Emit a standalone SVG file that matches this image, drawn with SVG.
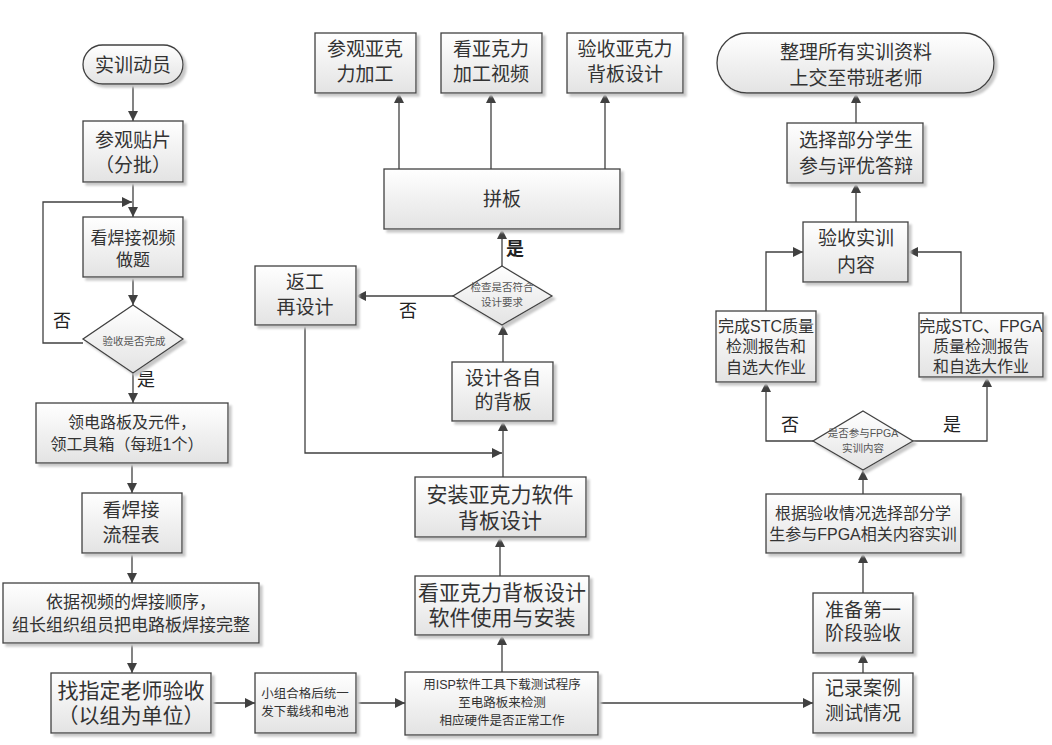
<svg xmlns="http://www.w3.org/2000/svg" width="1052" height="745" viewBox="0 0 1052 745">
<defs>
<linearGradient id="g" x1="0" y1="0" x2="0" y2="1">
<stop offset="0" stop-color="#ffffff"/>
<stop offset="1" stop-color="#e3e3e3"/>
</linearGradient>
<filter id="sh" x="-10%" y="-10%" width="130%" height="140%">
<feOffset in="SourceAlpha" dx="3" dy="3" result="o"/>
<feGaussianBlur in="o" stdDeviation="0.8" result="b"/>
<feFlood flood-color="#c8c8c8"/>
<feComposite in2="b" operator="in" result="s"/>
<feMerge><feMergeNode in="s"/><feMergeNode in="SourceGraphic"/></feMerge>
</filter>
<marker id="a" viewBox="0 0 10 10" refX="10" refY="5" markerWidth="11" markerHeight="10" markerUnits="userSpaceOnUse" orient="auto">
<path d="M0,0 L10,5 L0,10 z" fill="#404040"/>
</marker>
</defs>
<style>
.n{fill:url(#g);stroke:#404040;stroke-width:1.3;filter:url(#sh)}
.c{fill:none;stroke:#404040;stroke-width:1.3;marker-end:url(#a)}
text{font-family:"Liberation Sans","Noto Sans CJK SC",sans-serif;fill:#333;text-anchor:middle;dominant-baseline:central}
tspan{dominant-baseline:central}
.t19{font-size:19px}
.t17{font-size:17px}
.t16{font-size:16px}
.t15{font-size:15.5px}
.t21{font-size:21px}
.t13{font-size:12.5px}
.t11{font-size:10.5px;fill:#555}
.lab{font-size:18px;fill:#222}
</style>
<rect width="1052" height="745" fill="#ffffff"/>

<g id="connectors">
<path class="c" d="M133,83 V121"/>
<path class="c" d="M133,182 V217"/>
<path class="c" d="M83,343 H43 V202 H132"/>
<path class="c" d="M133,277 V305"/>
<path class="c" d="M133,373 V403"/>
<path class="c" d="M132,463 V493"/>
<path class="c" d="M132,553 V583"/>
<path class="c" d="M132,643 V673"/>
<path class="c" d="M211,703 H255"/>
<path class="c" d="M356,703 H405"/>
<path class="c" d="M598,703 H813"/>
<path class="c" d="M502,672 V635"/>
<path class="c" d="M500,576 V537"/>
<path class="c" d="M503,477 V421"/>
<path class="c" d="M305,325 V453 H502"/>
<path class="c" d="M503,362 V325"/>
<path class="c" d="M453,296 H356"/>
<path class="c" d="M502,266 V229"/>
<path class="c" d="M399,169 V93"/>
<path class="c" d="M491,169 V93"/>
<path class="c" d="M605,169 V93"/>
<path class="c" d="M863,673 V653"/>
<path class="c" d="M863,593 V553"/>
<path class="c" d="M863,494 V470"/>
<path class="c" d="M813,441 H766 V382"/>
<path class="c" d="M913,441 H987 V377"/>
<path class="c" d="M766,311 V252 H803"/>
<path class="c" d="M961,313 V252 H908"/>
<path class="c" d="M856,222 V183"/>
<path class="c" d="M856,123 V93"/>
</g>

<g id="labels">
<text class="lab" x="62" y="321">否</text>
<text class="lab" x="146" y="380">是</text>
<text class="lab" x="515" y="249" style="font-weight:bold">是</text>
<text class="lab" x="408" y="311">否</text>
<text class="lab" x="790" y="425">否</text>
<text class="lab" x="952" y="425">是</text>
</g>

<g id="n1"><rect class="n" x="83" y="45" width="100" height="39" rx="19.5"/><text class="t19" x="133" y="65">实训动员</text></g>
<g id="n2"><rect class="n" x="83" y="121" width="100" height="61"/><text class="t19"><tspan x="133" y="140">参观贴片</tspan><tspan x="133" y="165">（分批）</tspan></text></g>
<g id="n3"><rect class="n" x="83" y="217" width="100" height="60"/><text class="t17"><tspan x="133" y="238">看焊接视频</tspan><tspan x="133" y="260">做题</tspan></text></g>
<g id="d1"><path class="n" d="M133,305 L183,339 L133,373 L83,339 Z"/><text class="t11" x="134" y="341">验收是否完成</text></g>
<g id="n4"><rect class="n" x="36" y="403" width="192" height="60"/><text class="t16"><tspan x="132" y="422">领电路板及元件，</tspan><tspan x="127" y="444">领工具箱（每班1个）</tspan></text></g>
<g id="n5"><rect class="n" x="82" y="493" width="100" height="60"/><text class="t19"><tspan x="131" y="510">看焊接</tspan><tspan x="131" y="535">流程表</tspan></text></g>
<g id="n6"><rect class="n" x="3" y="583" width="256" height="60"/><text class="t17"><tspan x="131" y="602">依据视频的焊接顺序，</tspan><tspan x="131" y="625">组长组织组员把电路板焊接完整</tspan></text></g>
<g id="n7"><rect class="n" x="51" y="673" width="160" height="60"/><text class="t21"><tspan x="131" y="690">找指定老师验收</tspan><tspan x="131" y="715">（以组为单位）</tspan></text></g>
<g id="n8"><rect class="n" x="255" y="673" width="101" height="60"/><text class="t13"><tspan x="305" y="694">小组合格后统一</tspan><tspan x="305" y="712">发下载线和电池</tspan></text></g>
<g id="n9"><rect class="n" x="405" y="672" width="193" height="63"/><text class="t13"><tspan x="502" y="685">用ISP软件工具下载测试程序</tspan><tspan x="502" y="703">至电路板来检测</tspan><tspan x="502" y="721">相应硬件是否正常工作</tspan></text></g>
<g id="n10"><rect class="n" x="415" y="576" width="174" height="59"/><text class="t21"><tspan x="502" y="592">看亚克力背板设计</tspan><tspan x="502" y="617">软件使用与安装</tspan></text></g>
<g id="n11"><rect class="n" x="415" y="477" width="171" height="60"/><text class="t21"><tspan x="500" y="494">安装亚克力软件</tspan><tspan x="500" y="520">背板设计</tspan></text></g>
<g id="n12"><rect class="n" x="452" y="362" width="101" height="59"/><text class="t19"><tspan x="503" y="378">设计各自</tspan><tspan x="503" y="402">的背板</tspan></text></g>
<g id="d2"><path class="n" d="M502,266 L552,296 L502,325 L453,296 Z"/><text class="t11"><tspan x="502" y="287">检查是否符合</tspan><tspan x="502" y="302">设计要求</tspan></text></g>
<g id="n13"><rect class="n" x="255" y="266" width="101" height="59"/><text class="t19"><tspan x="305" y="282">返工</tspan><tspan x="305" y="307">再设计</tspan></text></g>
<g id="n14"><rect class="n" x="384" y="169" width="236" height="60"/><text class="t19" x="502" y="199">拼板</text></g>
<g id="n15"><rect class="n" x="315" y="33" width="101" height="60"/><text class="t19"><tspan x="365" y="49">参观亚克</tspan><tspan x="365" y="74">力加工</tspan></text></g>
<g id="n16"><rect class="n" x="441" y="33" width="101" height="60"/><text class="t19"><tspan x="491" y="49">看亚克力</tspan><tspan x="491" y="74">加工视频</tspan></text></g>
<g id="n17"><rect class="n" x="567" y="33" width="116" height="60"/><text class="t19"><tspan x="625" y="49">验收亚克力</tspan><tspan x="625" y="74">背板设计</tspan></text></g>
<g id="n18"><rect class="n" x="717" y="33" width="277" height="60" rx="30"/><text class="t19"><tspan x="856" y="52">整理所有实训资料</tspan><tspan x="856" y="78">上交至带班老师</tspan></text></g>
<g id="n19"><rect class="n" x="787" y="123" width="136" height="60"/><text class="t19"><tspan x="856" y="140">选择部分学生</tspan><tspan x="856" y="166">参与评优答辩</tspan></text></g>
<g id="n20"><rect class="n" x="803" y="222" width="105" height="60"/><text class="t19"><tspan x="856" y="238">验收实训</tspan><tspan x="856" y="265">内容</tspan></text></g>
<g id="n21"><rect class="n" x="716" y="311" width="100" height="71"/><text class="t16"><tspan x="766" y="326">完成STC质量</tspan><tspan x="766" y="346">检测报告和</tspan><tspan x="766" y="367">自选大作业</tspan></text></g>
<g id="n22"><rect class="n" x="919" y="313" width="124" height="64"/><text class="t16"><tspan x="981" y="326">完成STC、FPGA</tspan><tspan x="981" y="346">质量检测报告</tspan><tspan x="981" y="366">和自选大作业</tspan></text></g>
<g id="d3"><path class="n" d="M863,411 L913,441 L863,470 L813,441 Z"/><text class="t11"><tspan x="863" y="433">是否参与FPGA</tspan><tspan x="863" y="448">实训内容</tspan></text></g>
<g id="n23"><rect class="n" x="766" y="494" width="195" height="59"/><text class="t16"><tspan x="863" y="513">根据验收情况选择部分学</tspan><tspan x="863" y="534">生参与FPGA相关内容实训</tspan></text></g>
<g id="n24"><rect class="n" x="813" y="593" width="100" height="60"/><text class="t19"><tspan x="863" y="610">准备第一</tspan><tspan x="863" y="633">阶段验收</tspan></text></g>
<g id="n25"><rect class="n" x="813" y="673" width="100" height="60"/><text class="t19"><tspan x="863" y="688">记录案例</tspan><tspan x="863" y="713">测试情况</tspan></text></g>
</svg>
